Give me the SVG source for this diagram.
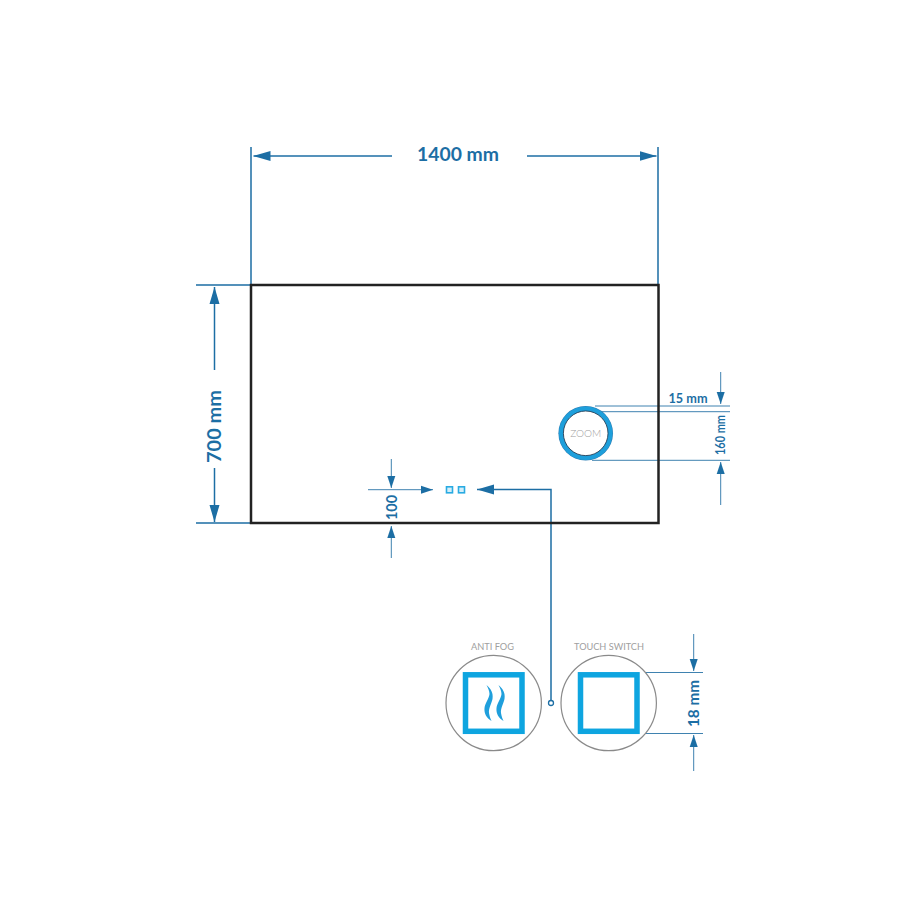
<svg xmlns="http://www.w3.org/2000/svg" width="900" height="900" viewBox="0 0 900 900">
<defs>
<marker id="ah" markerUnits="userSpaceOnUse" markerWidth="18" markerHeight="12" refX="17" refY="6" orient="auto"><path d="M0,1 L17,6 L0,11 Z" fill="#1c6ea4"/></marker>
<marker id="as" markerUnits="userSpaceOnUse" markerWidth="13" markerHeight="10" refX="12" refY="5" orient="auto"><path d="M0,1 L12,5 L0,9 Z" fill="#1c6ea4"/></marker>
</defs>
<style>
.dim{fill:none;stroke:#1c6ea4;stroke-width:1.5}
.thin{fill:none;stroke:#3f82b0;stroke-width:1}
.lab{fill:#1c6ea4;font-family:"Lato","Noto Sans",sans-serif;font-weight:700;text-anchor:middle}
.grey{fill:#a0a0a0;font-family:"Lato","Noto Sans",sans-serif;text-anchor:middle}
.disc{fill:#fff;stroke:#8a8a8a;stroke-width:1.2}
.sq{fill:#fff;stroke:#0ea5e0;stroke-width:5.5}
.wave{fill:#1f9fdc}
</style>
<rect width="900" height="900" fill="#fff"/>
<g id="connectors">
<path class="dim" d="M251,147V285M658,147V285"/>
<path class="dim" marker-end="url(#ah)" d="M392,156H253.5"/>
<path class="dim" marker-end="url(#ah)" d="M527,156H656.5"/>
<path class="dim" d="M196,285H251M196,523H251"/>
<path class="dim" marker-end="url(#ah)" d="M214.5,370V287"/>
<path class="dim" marker-end="url(#ah)" d="M214.5,468V522"/>
<path class="thin" d="M595,406H730M595,411.7H730M592,460.3H730"/>
<path class="thin" marker-end="url(#as)" d="M720.7,372V404"/>
<path class="thin" marker-end="url(#as)" d="M720.7,505V462"/>
<path class="thin" marker-end="url(#as)" d="M368,489.7H433"/>
<path class="thin" marker-end="url(#as)" d="M391.3,459V488"/>
<path class="thin" marker-end="url(#as)" d="M391.3,558V526"/>
<path class="dim" marker-end="url(#ah)" d="M551,700V489.5H477"/>
<circle cx="551" cy="703" r="2.5" fill="#fff" stroke="#1c6ea4" stroke-width="1.3"/>
<path class="thin" d="M640,672.5H703M640,733.5H703"/>
<path class="thin" marker-end="url(#as)" d="M693.7,634V671"/>
<path class="thin" marker-end="url(#as)" d="M693.7,771V735"/>
</g>
<g id="mirror"><rect x="251" y="285" width="407.5" height="238" fill="none" stroke="#222" stroke-width="2.5"/></g>
<g id="dimension-labels">
<text class="lab" x="458" y="161" font-size="19.5" textLength="82" lengthAdjust="spacingAndGlyphs">1400 mm</text>
<text class="lab" transform="translate(220.5,426.5) rotate(-90)" font-size="19.5" textLength="73" lengthAdjust="spacingAndGlyphs">700 mm</text>
<text class="lab" x="688" y="403" font-size="13.5" textLength="39" lengthAdjust="spacingAndGlyphs">15 mm</text>
<text class="lab" transform="translate(725,435) rotate(-90)" font-size="12.5" textLength="40" lengthAdjust="spacingAndGlyphs">160 mm</text>
<text class="lab" transform="translate(397,507.5) rotate(-90)" font-size="15.5" textLength="25" lengthAdjust="spacingAndGlyphs">100</text>
<text class="lab" transform="translate(699,703.5) rotate(-90)" font-size="15.5" textLength="47" lengthAdjust="spacingAndGlyphs">18 mm</text>
</g>
<g id="zoom">
<circle cx="585.7" cy="433.3" r="27.3" fill="#2f7fb5"/>
<circle cx="585.7" cy="433.3" r="26.8" fill="#1e9fdb"/>
<circle cx="585.7" cy="433.3" r="22.3" fill="#fff" stroke="#1b2f45" stroke-width="0.8"/>
<text class="grey" x="585.7" y="436.8" font-size="9.5" font-weight="300" textLength="31" lengthAdjust="spacingAndGlyphs">ZOOM</text>
</g>
<g id="touch-buttons" fill="#d4eef9" stroke="#29abe2" stroke-width="1.6">
<rect x="446.5" y="486.8" width="6" height="6"/>
<rect x="458.5" y="486.8" width="6" height="6"/>
</g>
<g id="anti-fog">
<circle class="disc" cx="493.7" cy="703" r="47.7"/>
<rect class="sq" x="465.5" y="674.8" width="56.5" height="56.5"/>
<path class="wave" d="M486.5,685C491,689 493.5,693 492.5,699C491.5,704 488.5,708 489,713C489.5,716 490.5,719 491.5,721C486.5,718 484,713.5 484.5,708C485,703 489,699 489.5,694C489.5,691 488,688 486.5,685Z"/>
<path class="wave" d="M498.5,685C503,689 505.5,693 504.5,699C503.5,704 500.5,708 501,713C501.5,716 502.5,719 503.5,721C498.5,718 496,713.5 496.5,708C497,703 501,699 501.5,694C501.5,691 500,688 498.5,685Z"/>
<text class="grey" x="492.5" y="650" font-size="9.5" textLength="43" lengthAdjust="spacingAndGlyphs">ANTI FOG</text>
</g>
<g id="touch-switch">
<circle class="disc" cx="608.7" cy="703" r="47.7"/>
<rect class="sq" x="580.5" y="674.8" width="56.5" height="56.5"/>
<text class="grey" x="609" y="650" font-size="9.5" textLength="70" lengthAdjust="spacingAndGlyphs">TOUCH SWITCH</text>
</g>
</svg>
